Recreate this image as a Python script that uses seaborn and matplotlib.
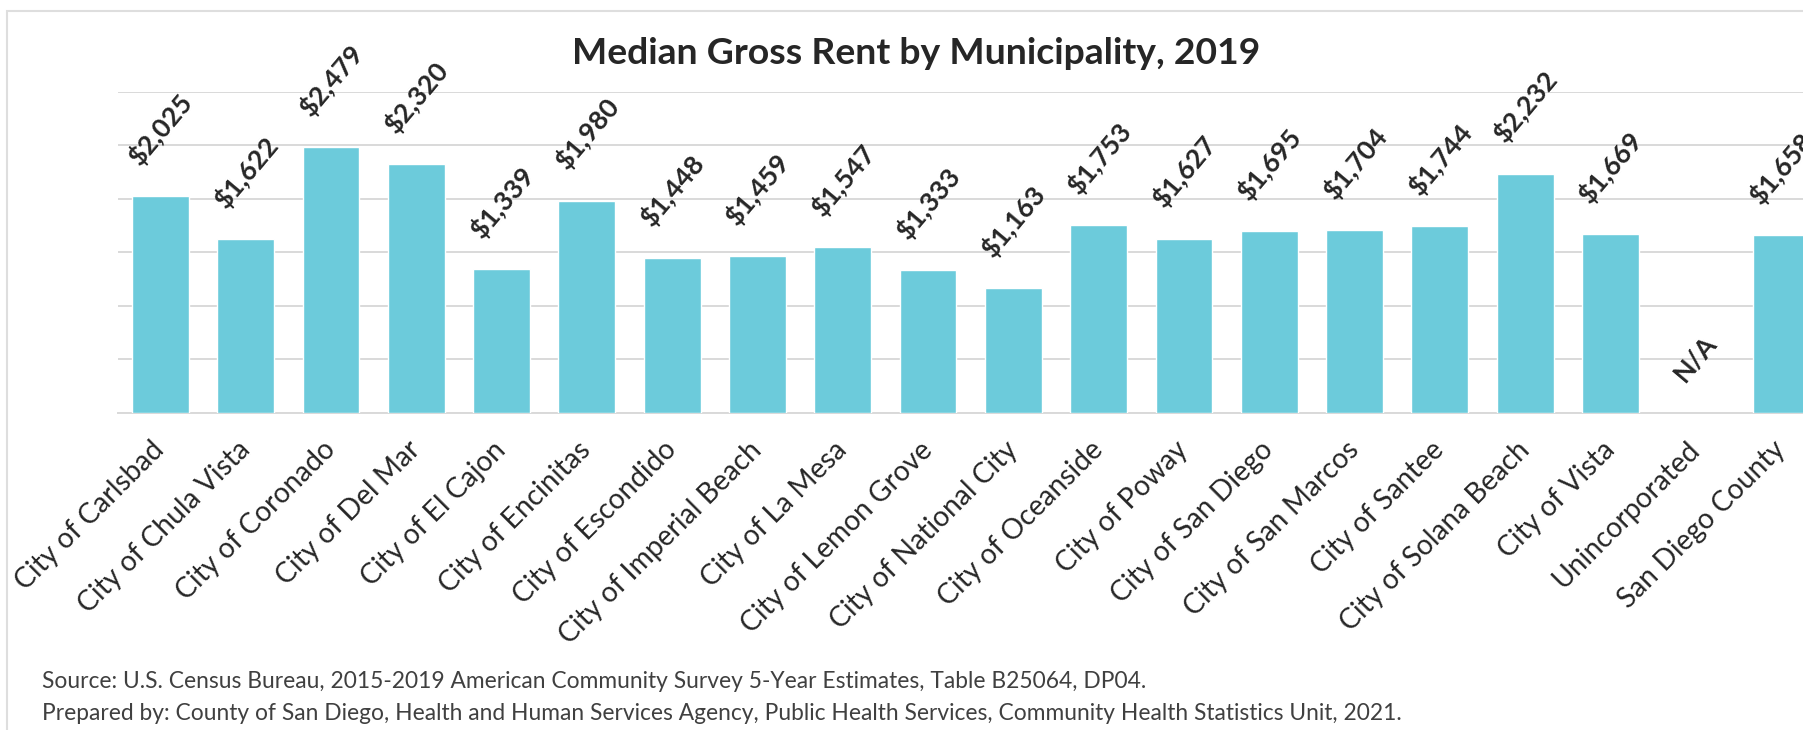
import numpy as np
import pandas as pd
import matplotlib
matplotlib.use("Agg")
import matplotlib.pyplot as plt
from matplotlib.patches import Rectangle
import seaborn as sns

# ---------------- data ----------------
categories = [
    "City of Carlsbad", "City of Chula Vista", "City of Coronado", "City of Del Mar",
    "City of El Cajon", "City of Encinitas", "City of Escondido", "City of Imperial Beach",
    "City of La Mesa", "City of Lemon Grove", "City of National City", "City of Oceanside",
    "City of Poway", "City of San Diego", "City of San Marcos", "City of Santee",
    "City of Solana Beach", "City of Vista", "Unincorporated", "San Diego County",
]
rent = [2025, 1622, 2479, 2320, 1339, 1980, 1448, 1459, 1547, 1333,
        1163, 1753, 1627, 1695, 1704, 1744, 2232, 1669, np.nan, 1658]
y_ticks = [0, 500, 1000, 1500, 2000, 2500, 3000]
title = "Median Gross Rent by Municipality, 2019"
source_lines = [
    "Source: U.S. Census Bureau, 2015-2019 American Community Survey 5-Year Estimates, Table B25064, DP04.",
    "Prepared by: County of San Diego, Health and Human Services Agency, Public Health Services, Community Health Statistics Unit, 2021.",
]
na_label = "N/A"

# ---------------- style ----------------
sns.set_style("white")
plt.rcParams["font.family"] = ["Lato", "DejaVu Sans"]
BAR = "#6ccbdb"
GRID = "#d9d9d9"
TXT = "#262626"

W, H = 1803, 730
fig = plt.figure(figsize=(W / 100, H / 100), dpi=100)
renderer = fig.canvas.get_renderer()


def fit_size(text, target_px, **kw):
    t = fig.text(0, 0, text, fontsize=10, **kw)
    w = t.get_window_extent(renderer).width
    t.remove()
    return 10 * target_px / w


# axes geometry (extends beyond the right edge, like the cropped original)
left_px, right_px = 117.7, 1823.7
bottom_px, top_px = 412.5, 91.7
ax = fig.add_axes([left_px / W, (H - bottom_px) / H,
                   (right_px - left_px) / W, (bottom_px - top_px) / H])

df = pd.DataFrame({"Municipality": categories, "Rent": rent})
sns.barplot(data=df, x="Municipality", y="Rent", order=categories, color=BAR,
            saturation=1, width=0.665, errorbar=None, ax=ax, zorder=3)

ax.set_xlim(-0.5, len(categories) - 0.5)
ax.set_ylim(y_ticks[0], y_ticks[-1])
ax.set_yticks(y_ticks)
ax.set_yticklabels([])
ax.yaxis.grid(True, color=GRID, linewidth=1.4, zorder=0)
ax.set_axisbelow(True)
for s in ["top", "right", "left"]:
    ax.spines[s].set_visible(False)
ax.spines["bottom"].set_color(GRID)
ax.spines["bottom"].set_linewidth(1.4)
ax.set_xlabel("")
ax.set_ylabel("")
ax.tick_params(axis="both", length=0)

# category labels
cat_size = fit_size("City of Carlsbad", 198)
positions = list(range(len(categories)))
ax.set_xticks(positions)
ax.set_xticklabels(categories, rotation=45, ha="right", va="center",
                   rotation_mode="anchor", fontsize=cat_size, color=TXT)
ax.tick_params(axis="x", pad=24)

# value labels
val_size = fit_size("$2,025", 84, fontweight="bold")
for cx, v in zip(positions, rent):
    if np.isnan(v):
        lab, yv = na_label, 0
    else:
        lab, yv = f"${v:,.0f}", v
    ax.annotate(lab, xy=(cx, yv), xytext=(0, 19), textcoords="offset points",
                rotation=50, ha="center", va="bottom", fontsize=val_size,
                fontweight="bold", color=TXT, annotation_clip=False)

# title
t_size = fit_size(title, 692, fontweight="bold")
fig.text(916 / W, 1 - 54 / H, title, ha="center", va="center",
         fontsize=t_size, fontweight="bold", color=TXT)

# source notes
s_size = fit_size(source_lines[1], 1358)
fig.text(42.5 / W, 1 - 681 / H, source_lines[0], ha="left", va="center",
         fontsize=s_size, color="#404040")
fig.text(42.5 / W, 1 - 713 / H, source_lines[1], ha="left", va="center",
         fontsize=s_size, color="#404040")

# outer chart frame
fig.patches.append(Rectangle((7 / W, -0.2), 1.5, 1.2 - 11 / H,
                             transform=fig.transFigure, fill=False,
                             edgecolor="#dedede", linewidth=1.5))

fig.savefig("out.png", dpi=100)
